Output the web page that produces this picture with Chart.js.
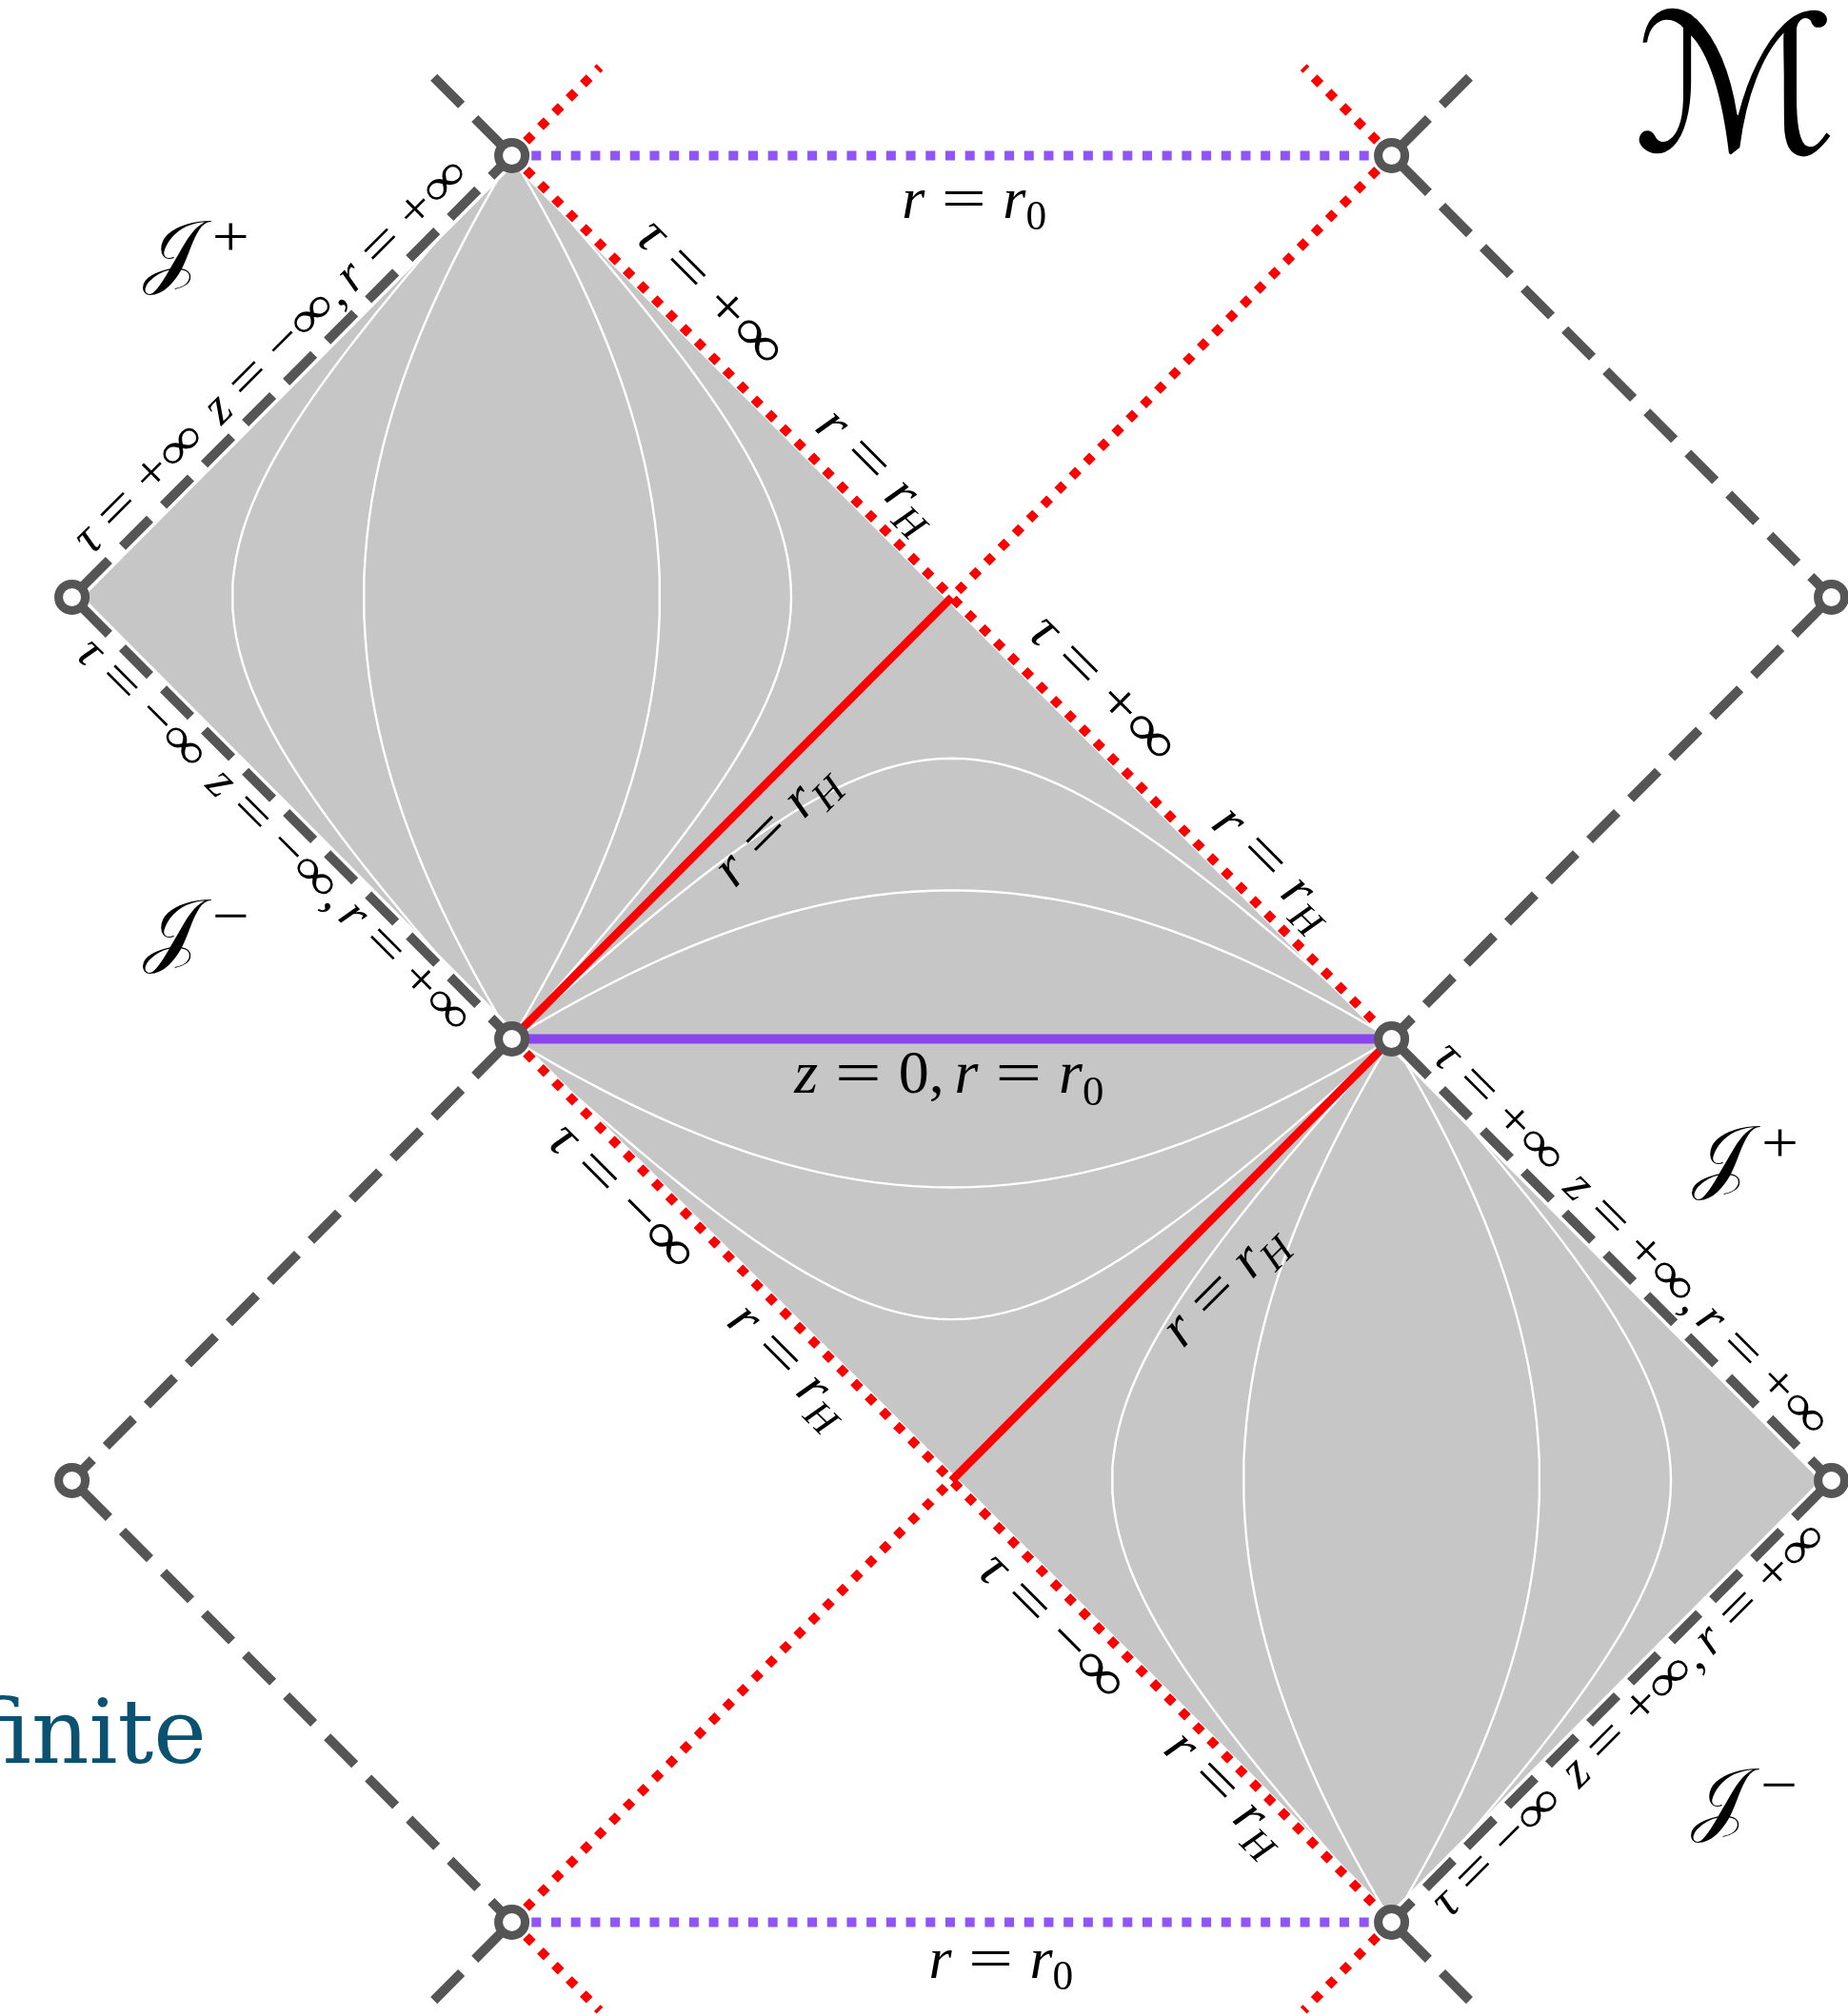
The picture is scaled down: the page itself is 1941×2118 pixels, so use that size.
<!DOCTYPE html>
<html>
<head>
<meta charset="utf-8">
<title>Penrose diagram</title>
<script src="https://cdn.jsdelivr.net/npm/chart.js@4.4.1/dist/chart.umd.min.js"></script>
<style>
  html, body { margin: 0; padding: 0; background: #ffffff; overflow: hidden; }
  canvas { display: block; }
</style>
</head>
<body>
<canvas id="penrose" width="1941" height="2118"></canvas>
<script>
// Conformal coordinates: one unit = half the diagonal of a diamond patch.
const xRange = [-1.1636, 3.0377];
const yRange = [-2.2125, 2.3522];

// Shaded strip, given as its upper and lower boundary (both single-valued in x).
const stripUpper = [[-1, 1], [0, 2], [1, 1], [2, 0], [3, -1]];
const stripLower = [[-1, 1], [0, 0], [1, -1], [2, -2], [3, -1]];

// Patches carrying constant-coordinate lines: from one tip of the diamond to the opposite tip.
const patchAxes = [
  [[0, 0], [0, 2]],
  [[0, 0], [2, 0]],
  [[2, -2], [2, 0]]
];
// Values of the constant coordinate for the white lines in every patch.
const coordinateValues = [-1.5, -0.7, 0.7, 1.5];

// Boundaries at infinity (grey dashes).
const infinitySegments = [
  [[-1, 1], [0, 2]], [[0, 2], [-0.2, 2.2]],
  [[-1, 1], [0, 0]], [[0, 0], [-1, -1]],
  [[-1, -1], [0, -2]], [[0, -2], [-0.2, -2.2]],
  [[2, 2], [2.2, 2.2]], [[2, 2], [3, 1]],
  [[3, 1], [2, 0]], [[2, 0], [3, -1]],
  [[3, -1], [2, -2]], [[2, -2], [2.2, -2.2]]
];
// Horizons r = r_H, dotted part.
const horizonDotted = [
  [[0, 2], [0.2, 2.2]], [[0, 2], [2, 0]],
  [[2, 2], [1, 1]], [[2, 2], [1.8, 2.2]],
  [[0, 0], [2, -2]], [[0, -2], [1, -1]],
  [[0, -2], [0.2, -2.2]], [[2, -2], [1.8, -2.2]]
];
// Horizons r = r_H, solid part.
const horizonSolid = [[[0, 0], [1, 1]], [[1, -1], [2, 0]]];
// r = r0 slices.
const sliceSolid = [[[0, 0], [2, 0]]];
const sliceDotted = [[[0, 2], [2, 2]], [[0, -2], [2, -2]]];
// Corner points.
const cornerPoints = [[0, 2], [2, 2], [-1, 1], [3, 1], [0, 0], [2, 0], [-1, -1], [3, -1], [0, -2], [2, -2]];

// Text placed on the diagram: [text, x, y, angle (deg), size, fit length in px (0 = none)]
const edgeLabels = [
  ['τ=+∞ z=−∞,r=+∞', -0.544, 1.544, -45, 46, 565],
  ['τ=−∞ z=−∞,r=+∞', -0.543, 0.457, 45, 46, 565],
  ['τ=+∞ z=+∞,r=+∞', 2.543, -0.457, 45, 46, 565],
  ['τ=−∞ z=+∞,r=+∞', 2.543, -1.543, -45, 46, 565],
  ['τ=+∞', 0.449, 1.684, 45, 60, 0],
  ['r=r_H', 0.828, 1.285, 45, 60, 0],
  ['τ=+∞', 1.341, 0.788, 45, 60, 0],
  ['r=r_H', 1.729, 0.386, 45, 60, 0],
  ['τ=−∞', 0.248, -0.362, 45, 60, 0],
  ['r=r_H', 0.627, -0.741, 45, 60, 0],
  ['τ=−∞', 1.226, -1.335, 45, 60, 0],
  ['r=r_H', 1.620, -1.709, 45, 60, 0],
  ['r=r_H', 0.603, 0.481, -45, 60, 0],
  ['r=r_H', 1.622, -0.561, -45, 60, 0],
  ['r=r_0', 1.051, 1.893, 0, 62, 0],
  ['r=r_0', 1.112, -2.092, 0, 62, 0],
  ['z=0,r=r_0', 0.994, -0.087, 0, 64, 0]
];
const scriLabels = [
  ['𝒥^+', -0.718, 1.770],
  ['𝒥^−', -0.718, 0.233],
  ['𝒥^+', 2.804, -0.280],
  ['𝒥^−', 2.802, -1.735]
];
const manifoldLabel = ['ℳ', 2.782, 2.118];
const sideText = ['finite', -0.694, -1.639];

const toPt = ([x, y]) => ({ x, y });
const logistic = s => 1 / (1 + Math.exp(-s));

// Constant-coordinate line inside a patch, in null coordinates p, q in (0, 1).
function coordinateLine(axis, c) {
  const [a, b] = axis;
  const d = [(b[0] - a[0]) / 2, (b[1] - a[1]) / 2];
  const n = [-d[1], d[0]];
  const pts = [toPt(a)];
  for (let s = -9; s <= 9.0001; s += 0.1) {
    const p = logistic(s + c), q = logistic(s - c);
    const u = p + q, v = p - q;
    pts.push({ x: a[0] + u * d[0] + v * n[0], y: a[1] + u * d[1] + v * n[1] });
  }
  pts.push(toPt(b));
  return pts;
}

const datasets = [];
const lineBase = { showLine: true, pointRadius: 0, pointHoverRadius: 0, fill: false, tension: 0 };

datasets.push({ ...lineBase, data: stripUpper.map(toPt), fill: '+1', backgroundColor: '#c6c6c6',
  borderColor: 'rgba(0,0,0,0)', borderWidth: 1, order: 100 });
datasets.push({ ...lineBase, data: stripLower.map(toPt), borderColor: 'rgba(0,0,0,0)', borderWidth: 1, order: 99 });

// white margins along the boundaries of the shaded strip
infinitySegments.forEach(seg => datasets.push({ ...lineBase, data: seg.map(toPt), borderColor: '#ffffff', borderWidth: 17, borderCapStyle: 'butt', order: 90 }));
horizonDotted.forEach(seg => datasets.push({ ...lineBase, data: seg.map(toPt), borderColor: '#ffffff', borderWidth: 12, borderCapStyle: 'butt', order: 90 }));

patchAxes.forEach(axis => coordinateValues.forEach(c => datasets.push({
  ...lineBase, data: coordinateLine(axis, c), borderColor: '#ffffff', borderWidth: 2.4, order: 80
})));

horizonSolid.forEach(seg => datasets.push({ ...lineBase, data: seg.map(toPt), borderColor: '#ff0000', borderWidth: 8.5, borderCapStyle: 'butt', order: 70 }));
sliceSolid.forEach(seg => datasets.push({ ...lineBase, data: seg.map(toPt), borderColor: '#8a46ee', borderWidth: 10, borderCapStyle: 'butt', order: 60 }));
sliceDotted.forEach(seg => datasets.push({ ...lineBase, data: seg.map(toPt), borderColor: '#9154f7', borderWidth: 10, borderDash: [10, 10.7], borderCapStyle: 'butt', order: 55 }));
horizonDotted.forEach(seg => datasets.push({ ...lineBase, data: seg.map(toPt), borderColor: '#ff0000', borderWidth: 9.5, borderDash: [9.5, 11.7], borderCapStyle: 'butt', order: 50 }));
infinitySegments.forEach(seg => datasets.push({ ...lineBase, data: seg.map(toPt), borderColor: '#555555', borderWidth: 10, borderDash: [41, 20], borderDashOffset: -14, borderCapStyle: 'butt', order: 40 }));

datasets.push({ data: cornerPoints.map(toPt), showLine: false, pointStyle: 'circle', pointRadius: 14, pointHoverRadius: 14,
  pointBorderWidth: 9, pointBorderColor: '#555555', pointBackgroundColor: '#fcfcfc', order: 0 });

// --- small math typesetter for the labels ---
const MATH_FONT = '"Liberation Serif", "DejaVu Serif", serif';
const stretch = { '=': 1.35, '∞': 1.3, '+': 1.15, '−': 1.15 };
const isLetter = ch => /[A-Za-z\u03b1-\u03c9]/.test(ch);

function parseMath(src) {
  const chars = Array.from(src);
  const toks = [];
  for (let i = 0; i < chars.length; i++) {
    const c = chars[i];
    if (c === '_' || c === '^') {
      const n = chars[++i];
      if (c === '^') toks.push({ gap: 0.16 });
      toks.push({ t: n, script: c === '_' ? 'sub' : 'sup', italic: isLetter(n) });
    } else if (c === ' ') {
      toks.push({ gap: 0.38 });
    } else if (c === '=') {
      toks.push({ t: '=', rel: true });
    } else if (c === ',') {
      toks.push({ t: ',', after: 0.17 });
    } else {
      toks.push({ t: c, italic: isLetter(c) });
    }
  }
  return toks;
}

function runMath(ctx, toks, size, family, origin) {
  let x = 0;
  for (const k of toks) {
    if (k.gap) { x += k.gap * size; continue; }
    const s = k.script ? size * 0.7 : size;
    ctx.font = `${k.italic ? 'italic ' : ''}${s}px ${family}`;
    const st = stretch[k.t] || 1;
    const pad = k.rel ? 0.28 * size : 0;
    x += pad;
    const w = ctx.measureText(k.t).width * st;
    if (origin) {
      const dy = k.script === 'sub' ? 0.2 * size : (k.script === 'sup' ? -0.27 * size : 0);
      ctx.save();
      ctx.translate(origin.x + x, origin.y + dy);
      ctx.scale(st, 1);
      ctx.fillText(k.t, 0, 0);
      ctx.restore();
    }
    x += w + pad + (k.after ? k.after * size : 0);
  }
  return x;
}

function drawMath(chart, text, x, y, angle, size, fit, opts = {}) {
  const ctx = chart.ctx;
  const px = chart.scales.x.getPixelForValue(x);
  const py = chart.scales.y.getPixelForValue(y);
  const family = opts.family || MATH_FONT;
  const toks = parseMath(text);
  ctx.save();
  let w = runMath(ctx, toks, size, family, null);
  if (fit) { size = size * fit / w; w = fit; }
  ctx.translate(px, py);
  ctx.rotate(angle * Math.PI / 180);
  ctx.fillStyle = opts.color || '#000000';
  ctx.textAlign = 'left';
  ctx.textBaseline = 'alphabetic';
  runMath(ctx, toks, size, family, { x: -w / 2, y: 0.25 * size });
  ctx.restore();
}

const labelPlugin = {
  id: 'diagramLabels',
  afterDatasetsDraw(chart) {
    edgeLabels.forEach(([t, x, y, a, s, f]) => drawMath(chart, t, x, y, a, s, f));
    scriLabels.forEach(([t, x, y]) => drawMath(chart, t, x, y, 0, 86, 0));
    drawMath(chart, manifoldLabel[0], manifoldLabel[1], manifoldLabel[2], 0, 200, 0,
      { family: '"DejaVu Serif", "DejaVu Sans", serif' });
    const ctx = chart.ctx;
    ctx.save();
    ctx.font = '94px "DejaVu Serif", serif';
    ctx.fillStyle = '#0b5272';
    ctx.textAlign = 'right';
    ctx.textBaseline = 'alphabetic';
    ctx.fillText(sideText[0], chart.scales.x.getPixelForValue(sideText[1]), chart.scales.y.getPixelForValue(sideText[2]));
    ctx.restore();
  }
};

new Chart(document.getElementById('penrose'), {
  type: 'scatter',
  data: { datasets },
  options: {
    responsive: false,
    animation: false,
    events: [],
    layout: { padding: 0, autoPadding: false },
    plugins: { legend: { display: false }, tooltip: { enabled: false }, title: { display: false } },
    scales: {
      x: { type: 'linear', min: xRange[0], max: xRange[1], display: false },
      y: { type: 'linear', min: yRange[0], max: yRange[1], display: false }
    }
  },
  plugins: [labelPlugin]
});
</script>
</body>
</html>
